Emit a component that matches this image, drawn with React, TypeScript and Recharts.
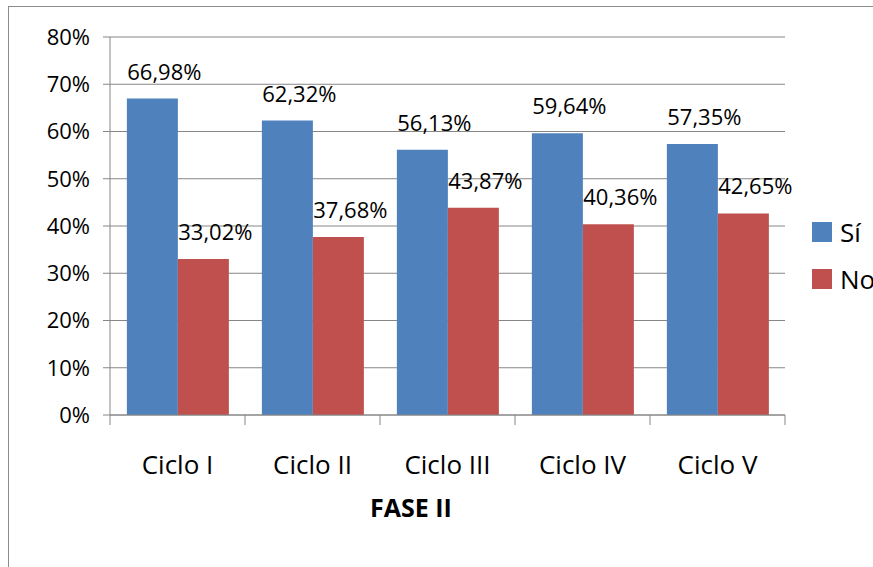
import React from 'react'
import { BarChart, Bar, XAxis, YAxis, CartesianGrid, LabelList } from 'recharts'

const categories = ['Ciclo I', 'Ciclo II', 'Ciclo III', 'Ciclo IV', 'Ciclo V']
const siValues = [66.98, 62.32, 56.13, 59.64, 57.35]
const noValues = [33.02, 37.68, 43.87, 40.36, 42.65]
const yTicks = [0, 10, 20, 30, 40, 50, 60, 70, 80]

const data = categories.map((name, i) => ({ name, si: siValues[i], no: noValues[i] }))

const COLORS = {
  si: '#4F81BD',
  no: '#C0504D',
  grid: '#868686',
  text: '#000000'
}

const FONT = '"Open Sans", sans-serif'
const W = 873
const H = 567
const PLOT_LEFT = 110
const PLOT_RIGHT = 785
const BAND = (PLOT_RIGHT - PLOT_LEFT) / categories.length

const fmt = (v: number) => v.toFixed(2).replace('.', ',') + '%'

// label sits above the bar, nudged right like the original
const BarLabel = ({ x, y, width, value }: any) => (
  <text
    x={x + width / 2 + 12}
    y={y - 28}
    textAnchor="middle"
    dominantBaseline="central"
    fontFamily={FONT}
    fontSize={22}
    fill={COLORS.text}
  >
    {fmt(value)}
  </text>
)

// category label at the band centre, tick marks on the band edges
const CategoryTick = ({ x, y, payload, index }: any) => (
  <g>
    <line x1={x - BAND / 2} x2={x - BAND / 2} y1={y - 10} y2={y} stroke={COLORS.grid} />
    {index === categories.length - 1 && (
      <line x1={x + BAND / 2} x2={x + BAND / 2} y1={y - 10} y2={y} stroke={COLORS.grid} />
    )}
    <text x={x} y={y + 49} textAnchor="middle" fontFamily={FONT} fontSize={26} fill={COLORS.text}>
      {payload.value}
    </text>
  </g>
)

export default function App() {
  return (
    <div
      style={{
        position: 'absolute',
        left: 0,
        top: 0,
        width: W,
        height: H,
        overflow: 'hidden',
        background: '#fff'
      }}
    >
      <div
        style={{
          position: 'absolute',
          left: 8,
          top: 6,
          width: 920,
          height: 620,
          border: '1px solid #8c8c8c'
        }}
      />
      <div style={{ position: 'absolute', left: 0, top: 0 }}>
        <BarChart
          width={W}
          height={H}
          data={data}
          margin={{ top: 37, right: W - PLOT_RIGHT, left: 0, bottom: 0 }}
          barCategoryGap="12.5%"
          barGap={0}
        >
          <CartesianGrid vertical={false} stroke={COLORS.grid} />
          <XAxis
            dataKey="name"
            height={152}
            axisLine={{ stroke: COLORS.grid }}
            tickLine={false}
            tickSize={10}
            tickMargin={0}
            interval={0}
            tick={<CategoryTick />}
          />
          <YAxis
            width={PLOT_LEFT}
            domain={[0, 80]}
            ticks={yTicks}
            interval={0}
            tickFormatter={(v: number) => `${v}%`}
            axisLine={{ stroke: COLORS.grid }}
            tickLine={{ stroke: COLORS.grid }}
            tickSize={7}
            tickMargin={13}
            tick={{ fontFamily: FONT, fontSize: 22, fill: COLORS.text }}
          />
          <Bar dataKey="si" name="Sí" fill={COLORS.si} isAnimationActive={false}>
            <LabelList dataKey="si" content={<BarLabel />} />
          </Bar>
          <Bar dataKey="no" name="No" fill={COLORS.no} isAnimationActive={false}>
            <LabelList dataKey="no" content={<BarLabel />} />
          </Bar>
        </BarChart>
      </div>
      <div
        style={{
          position: 'absolute',
          left: 368,
          top: 490,
          width: 86,
          textAlign: 'center',
          fontFamily: FONT,
          fontWeight: 700,
          fontSize: 25,
          lineHeight: '34px',
          whiteSpace: 'nowrap'
        }}
      >
        FASE II
      </div>
      {[
        { label: 'Sí', color: COLORS.si, top: 222 },
        { label: 'No', color: COLORS.no, top: 269 }
      ].map((item) => (
        <div key={item.label} style={{ position: 'absolute', left: 812, top: item.top, display: 'flex', alignItems: 'center' }}>
          <div style={{ width: 20, height: 20, background: item.color }} />
          <span style={{ marginLeft: 8, fontFamily: FONT, fontSize: 26, lineHeight: '20px' }}>{item.label}</span>
        </div>
      ))}
    </div>
  )
}
